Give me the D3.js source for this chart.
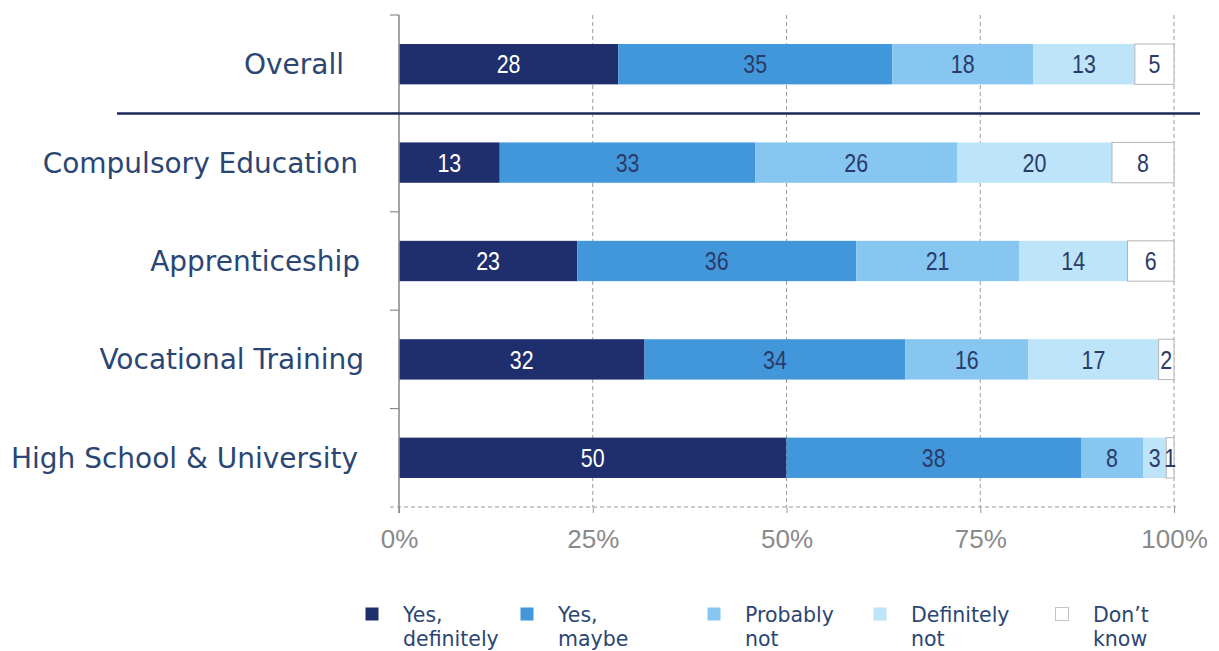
<!DOCTYPE html>
<html>
<head>
<meta charset="utf-8">
<script src="https://cdn.jsdelivr.net/npm/d3@7"></script>
<style>
  html, body { margin: 0; padding: 0; background: #fff; }
  svg { display: block; }
</style>
</head>
<body>
<svg id="chart" width="1219" height="651"></svg>
<script>
// Survey groups and answer shares (percent)
const groups = ["Overall", "Compulsory Education", "Apprenticeship", "Vocational Training", "High School & University"];
const answers = ["Yes, definitely", "Yes, maybe", "Probably not", "Definitely not", "Don’t know"];
const yesDefinitely = [28, 13, 23, 32, 50];
const yesMaybe      = [35, 33, 36, 34, 38];
const probablyNot   = [18, 26, 21, 16, 8];
const definitelyNot = [13, 20, 14, 17, 3];
const dontKnow      = [5, 8, 6, 2, 1];
const tickValues = [0, 0.25, 0.5, 0.75, 1];
const legendLines = [["Yes,", "definitely"], ["Yes,", "maybe"], ["Probably", "not"], ["Definitely", "not"], ["Don’t", "know"]];

const colors = ["#1f2e6d", "#4297db", "#86c6f1", "#bde4f8", "#ffffff"];
const labelColors = ["#ffffff", "#2a3b6a", "#2a3b6a", "#2a3b6a", "#2a3b6a"];
const textBlue = "#2b4672";

const rows = groups.map((g, i) => ({
  group: g,
  [answers[0]]: yesDefinitely[i],
  [answers[1]]: yesMaybe[i],
  [answers[2]]: probablyNot[i],
  [answers[3]]: definitelyNot[i],
  [answers[4]]: dontKnow[i]
}));

const svg = d3.select("#chart");
const plotLeft = 399, plotRight = 1174, plotTop = 15, plotBottom = 507;

const x = d3.scaleLinear().domain([0, 1]).range([plotLeft, plotRight]);
const y = d3.scaleBand().domain(groups).range([plotTop, plotBottom])
  .paddingInner(0.59).paddingOuter(0.295);

const stack = d3.stack().keys(answers).offset(d3.stackOffsetExpand);
const series = stack(rows);

// vertical dashed gridlines
svg.append("g").selectAll("line")
  .data(tickValues.slice(1))
  .join("line")
  .attr("x1", d => x(d)).attr("x2", d => x(d))
  .attr("y1", plotTop).attr("y2", plotBottom)
  .attr("stroke", "#9a9a9a").attr("stroke-width", 1)
  .attr("stroke-dasharray", "4,3");

// x axis
const xAxis = svg.append("g")
  .attr("transform", `translate(0,${plotBottom})`)
  .call(d3.axisBottom(x).tickValues(tickValues).tickFormat(d3.format(".0%")).tickSize(6).tickPadding(17));
xAxis.select(".domain").remove();
xAxis.selectAll(".tick line").attr("stroke", "#9a9a9a");
xAxis.selectAll(".tick text")
  .attr("fill", "#8a8a8a")
  .attr("font-family", "'Liberation Sans', Arial, sans-serif")
  .attr("font-size", 26);
svg.append("line")
  .attr("x1", plotLeft - 9).attr("x2", plotRight + 2)
  .attr("y1", plotBottom).attr("y2", plotBottom)
  .attr("stroke", "#9a9a9a").attr("stroke-width", 1.2)
  .attr("stroke-dasharray", "4,3");

// bars
const layer = svg.append("g").selectAll("g")
  .data(series)
  .join("g")
  .attr("fill", (d, i) => colors[i]);

layer.selectAll("rect")
  .data(d => d.map(v => ({ v, key: d.key })))
  .join("rect")
  .attr("x", d => x(d.v[0]))
  .attr("width", d => x(d.v[1]) - x(d.v[0]))
  .attr("y", d => y(d.v.data.group))
  .attr("height", y.bandwidth())
  .attr("stroke", d => d.key === answers[4] ? "#b5b5b5" : "none")
  .attr("stroke-width", 1);

// segment value labels (narrowed digits)
const labelLayer = svg.append("g");
series.forEach((s, si) => {
  labelLayer.append("g").selectAll("text")
    .data(s)
    .join("text")
    .attr("transform", d => `translate(${(x(d[0]) + x(d[1])) / 2},${y(d.data.group) + y.bandwidth() / 2}) scale(0.84,1)`)
    .attr("dy", "0.36em")
    .attr("text-anchor", "middle")
    .attr("fill", labelColors[si])
    .attr("font-family", "'Liberation Sans', Arial, sans-serif")
    .attr("font-size", 25.5)
    .text(d => d.data[s.key]);
});

// y axis line with boundary ticks
const step = y.step();
const firstEdge = y(groups[0]) - step * y.paddingInner() / 2;
const edges = d3.range(groups.length + 1).map(k => firstEdge + k * step);
svg.append("line")
  .attr("x1", plotLeft).attr("x2", plotLeft)
  .attr("y1", plotTop).attr("y2", plotBottom + 6)
  .attr("stroke", "#8c8c8c").attr("stroke-width", 1.6);
svg.append("g").selectAll("line")
  .data(edges.slice(0, -1))
  .join("line")
  .attr("x1", plotLeft - 9).attr("x2", plotLeft)
  .attr("y1", d => d).attr("y2", d => d)
  .attr("stroke", "#8c8c8c").attr("stroke-width", 1.2);

// category labels, right edges
const labelRight = [344, 358, 360, 364, 358];
svg.append("g").selectAll("text")
  .data(groups)
  .join("text")
  .attr("x", (d, i) => labelRight[i])
  .attr("y", d => y(d) + y.bandwidth() / 2)
  .attr("dy", "0.36em")
  .attr("text-anchor", "end")
  .attr("fill", textBlue)
  .attr("font-family", "'DejaVu Sans', Verdana, sans-serif")
  .attr("font-size", 28)
  .text(d => d);

// separator under the overall row
svg.append("line")
  .attr("x1", 117).attr("x2", 1200)
  .attr("y1", edges[1]).attr("y2", edges[1])
  .attr("stroke", "#1c2a5a").attr("stroke-width", 2.5);

// legend
const legendX = [365, 520, 707, 873, 1055];
const legend = svg.append("g").selectAll("g")
  .data(answers)
  .join("g")
  .attr("transform", (d, i) => `translate(${legendX[i]},0)`);
legend.append("rect")
  .attr("x", 0.5).attr("y", 607.5)
  .attr("width", 13).attr("height", 13)
  .attr("fill", (d, i) => colors[i])
  .attr("stroke", (d, i) => i === 4 ? "#c4c4c4" : "none");
legend.each(function (d, i) {
  d3.select(this).selectAll("text")
    .data(legendLines[i])
    .join("text")
    .attr("x", 38)
    .attr("y", (t, j) => 622 + j * 24)
    .attr("fill", textBlue)
    .attr("font-family", "'DejaVu Sans', Verdana, sans-serif")
    .attr("font-size", 20.5)
    .text(t => t);
});
</script>
</body>
</html>
